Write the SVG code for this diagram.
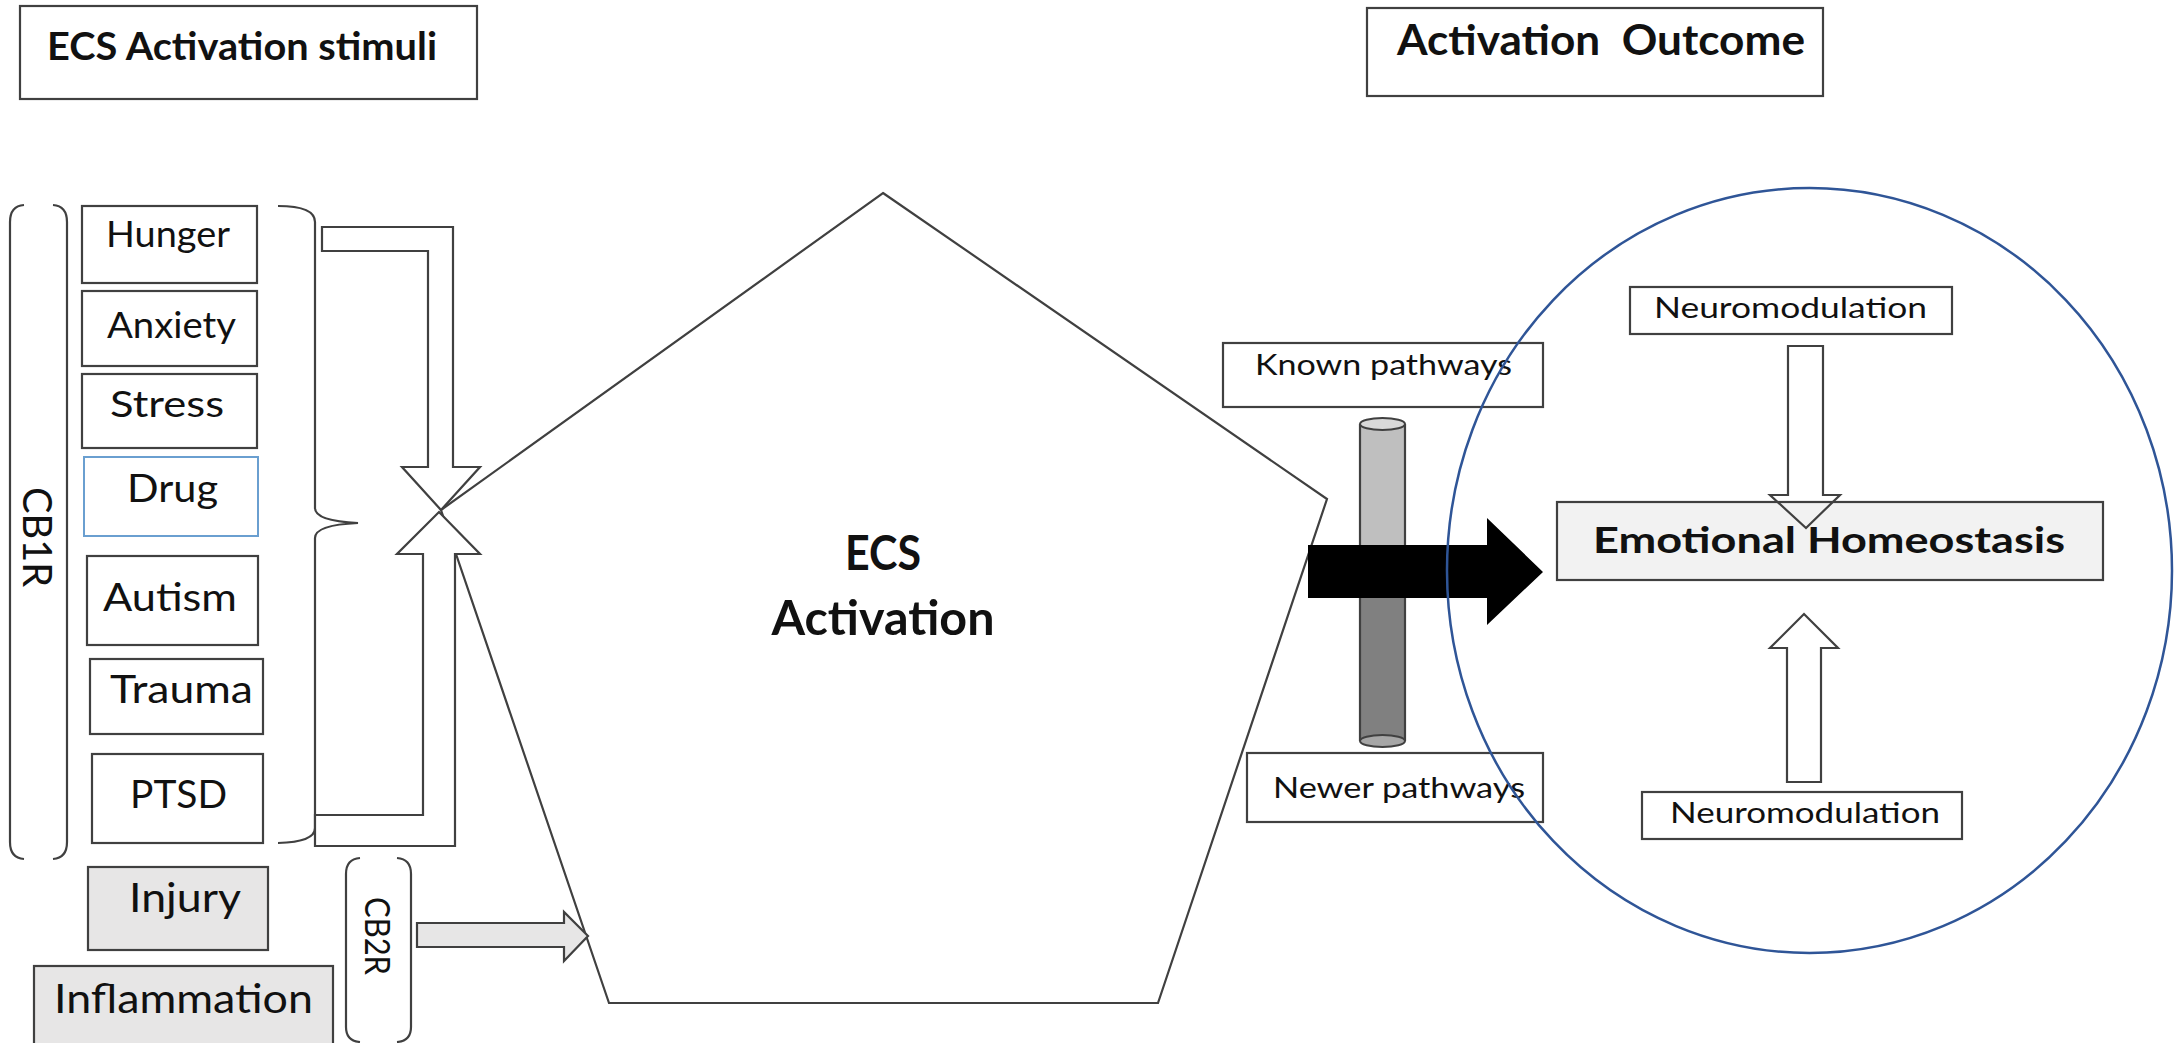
<svg xmlns="http://www.w3.org/2000/svg" width="2177" height="1043" viewBox="0 0 2177 1043">
<style>
.bx{fill:#fff;stroke:#404040;stroke-width:2.2}
.gr{fill:#e7e6e6;stroke:#404040;stroke-width:2.2}
.ln{fill:none;stroke:#404040;stroke-width:2.2}
.ar{fill:#fff;stroke:#404040;stroke-width:2.2;stroke-linejoin:miter}
.t{font-family:Lato,"Liberation Sans",sans-serif;fill:#111}
.b{font-weight:bold}
</style>
<rect width="2177" height="1043" fill="#fff"/>
<g id="header-stimuli"><rect class="bx" x="20" y="6" width="457" height="93"/><text class="t b" x="47" y="60" font-size="39" textLength="390" lengthAdjust="spacingAndGlyphs">ECS Activation stimuli</text></g>
<g id="header-outcome"><rect class="bx" x="1367" y="8" width="456" height="88"/><text class="t b" x="1397" y="55" font-size="42" textLength="408" lengthAdjust="spacingAndGlyphs">Activation&#160; Outcome</text></g>
<g id="cb1r"><path class="ln" d="M24,205 Q10,206 10,222 V842 Q10,858 24,859"/><path class="ln" d="M53,205 Q67,206 67,222 V842 Q67,858 53,859"/><text class="t" transform="translate(23,537) rotate(90)" text-anchor="middle" font-size="40" textLength="100" lengthAdjust="spacingAndGlyphs">CB1R</text></g>
<g id="hunger"><rect class="bx" x="82" y="206" width="175" height="77"/><text class="t" x="106" y="247" font-size="37" textLength="124" lengthAdjust="spacingAndGlyphs">Hunger</text></g>
<g id="anxiety"><rect class="bx" x="82" y="291" width="175" height="75"/><text class="t" x="107" y="338" font-size="37" textLength="129" lengthAdjust="spacingAndGlyphs">Anxiety</text></g>
<g id="stress"><rect class="bx" x="82" y="374" width="175" height="74"/><text class="t" x="110" y="417" font-size="37" textLength="114" lengthAdjust="spacingAndGlyphs">Stress</text></g>
<g id="drug"><rect x="84" y="457" width="174" height="79" fill="#fff" stroke="#6a9fd0" stroke-width="2"/><text class="t" x="127" y="502" font-size="38" textLength="91" lengthAdjust="spacingAndGlyphs">Drug</text></g>
<g id="autism"><rect class="bx" x="87" y="556" width="171" height="89"/><text class="t" x="103" y="611" font-size="38" textLength="134" lengthAdjust="spacingAndGlyphs">Autism</text></g>
<g id="trauma"><rect class="bx" x="90" y="659" width="173" height="75"/><text class="t" x="110" y="703" font-size="38" textLength="143" lengthAdjust="spacingAndGlyphs">Trauma</text></g>
<g id="ptsd"><rect class="bx" x="92" y="754" width="171" height="89"/><text class="t" x="130" y="808" font-size="38" textLength="97" lengthAdjust="spacingAndGlyphs">PTSD</text></g>
<g id="brace"><path class="ln" d="M278,206 Q315,206 315,222 V508 Q315,521 358,523 Q315,525 315,538 V828 Q315,842 278,843"/></g>
<g id="injury"><rect class="gr" x="88" y="867" width="180" height="83"/><text class="t" x="129" y="912" font-size="40" textLength="112" lengthAdjust="spacingAndGlyphs">Injury</text></g>
<g id="inflammation"><rect class="gr" x="34" y="966" width="299" height="82"/><text class="t" x="54" y="1013" font-size="41" textLength="259" lengthAdjust="spacingAndGlyphs">Inflammation</text></g>
<g id="cb2r"><path class="ln" d="M360,858 Q346,859 346,874 V1027 Q346,1041 360,1042"/><path class="ln" d="M397,858 Q411,859 411,874 V1027 Q411,1041 397,1042"/><text class="t" transform="translate(365,936) rotate(90)" text-anchor="middle" font-size="34" textLength="78" lengthAdjust="spacingAndGlyphs">CB2R</text></g>
<g id="ecs-activation"><polygon points="883,193 1327,499 1158,1003 609,1003 441,510" fill="#fff" stroke="#404040" stroke-width="2.2"/><text class="t b" x="883" y="570" text-anchor="middle" font-size="48" textLength="76" lengthAdjust="spacingAndGlyphs">ECS</text><text class="t b" x="883" y="635" text-anchor="middle" font-size="48" textLength="223" lengthAdjust="spacingAndGlyphs">Activation</text></g>
<g id="known"><rect class="bx" x="1223" y="343" width="320" height="64"/><text class="t" x="1255" y="375" font-size="28" textLength="257" lengthAdjust="spacingAndGlyphs">Known pathways</text></g>
<g id="newer"><rect class="bx" x="1247" y="753" width="296" height="69"/><text class="t" x="1273" y="798" font-size="28" textLength="252" lengthAdjust="spacingAndGlyphs">Newer pathways</text></g>
<g id="cylinder">
<rect x="1360" y="424" width="45" height="148" fill="#bfbfbf"/>
<rect x="1360" y="572" width="45" height="169" fill="#808080"/>
<path class="ln" d="M1360,424 V741 M1405,424 V741"/>
<ellipse cx="1382.5" cy="741" rx="22.5" ry="6" fill="#a6a6a6" stroke="#404040" stroke-width="2"/>
<ellipse cx="1382.5" cy="424" rx="22.5" ry="6" fill="#d9d9d9" stroke="#404040" stroke-width="2"/>
</g>
<g id="neuro-top"><rect class="bx" x="1630" y="287" width="322" height="47"/><text class="t" x="1654" y="318" font-size="29" textLength="273" lengthAdjust="spacingAndGlyphs">Neuromodulation</text></g>
<g id="emotional"><rect x="1557" y="502" width="546" height="78" fill="#f2f2f2" stroke="#404040" stroke-width="2.2"/><text class="t b" x="1593" y="553" font-size="36" textLength="472" lengthAdjust="spacingAndGlyphs">Emotional Homeostasis</text></g>
<g id="neuro-bottom"><rect class="bx" x="1642" y="792" width="320" height="47"/><text class="t" x="1670" y="823" font-size="29" textLength="270" lengthAdjust="spacingAndGlyphs">Neuromodulation</text></g>
<g id="connectors">
<path class="ar" d="M322,227 H453 V467 H480 L441,510 L402,467 H428 V251 H322 Z"/>
<path class="ar" d="M315,846 H455 V554 H480 L439,512 L397,554 H423 V815 H315 Z"/>
<path class="gr" d="M417,923 H564 V912 L588,936 L564,961 V947 H417 Z"/>
<path d="M1308,545 H1487 V518 L1543,572 L1487,625 V598 H1308 Z" fill="#000"/>
<path class="ar" d="M1788,346 H1823 V495 H1840 L1806,528 L1770,495 H1788 Z" fill-opacity="0"/>
<path class="ar" d="M1787,782 H1821 V648 H1838 L1804,614 L1770,648 H1787 Z"/>
</g>
<g id="outcome-circle"><ellipse cx="1809.5" cy="570.5" rx="362.5" ry="382.5" fill="none" stroke="#2f5597" stroke-width="2.5"/></g>
</svg>
